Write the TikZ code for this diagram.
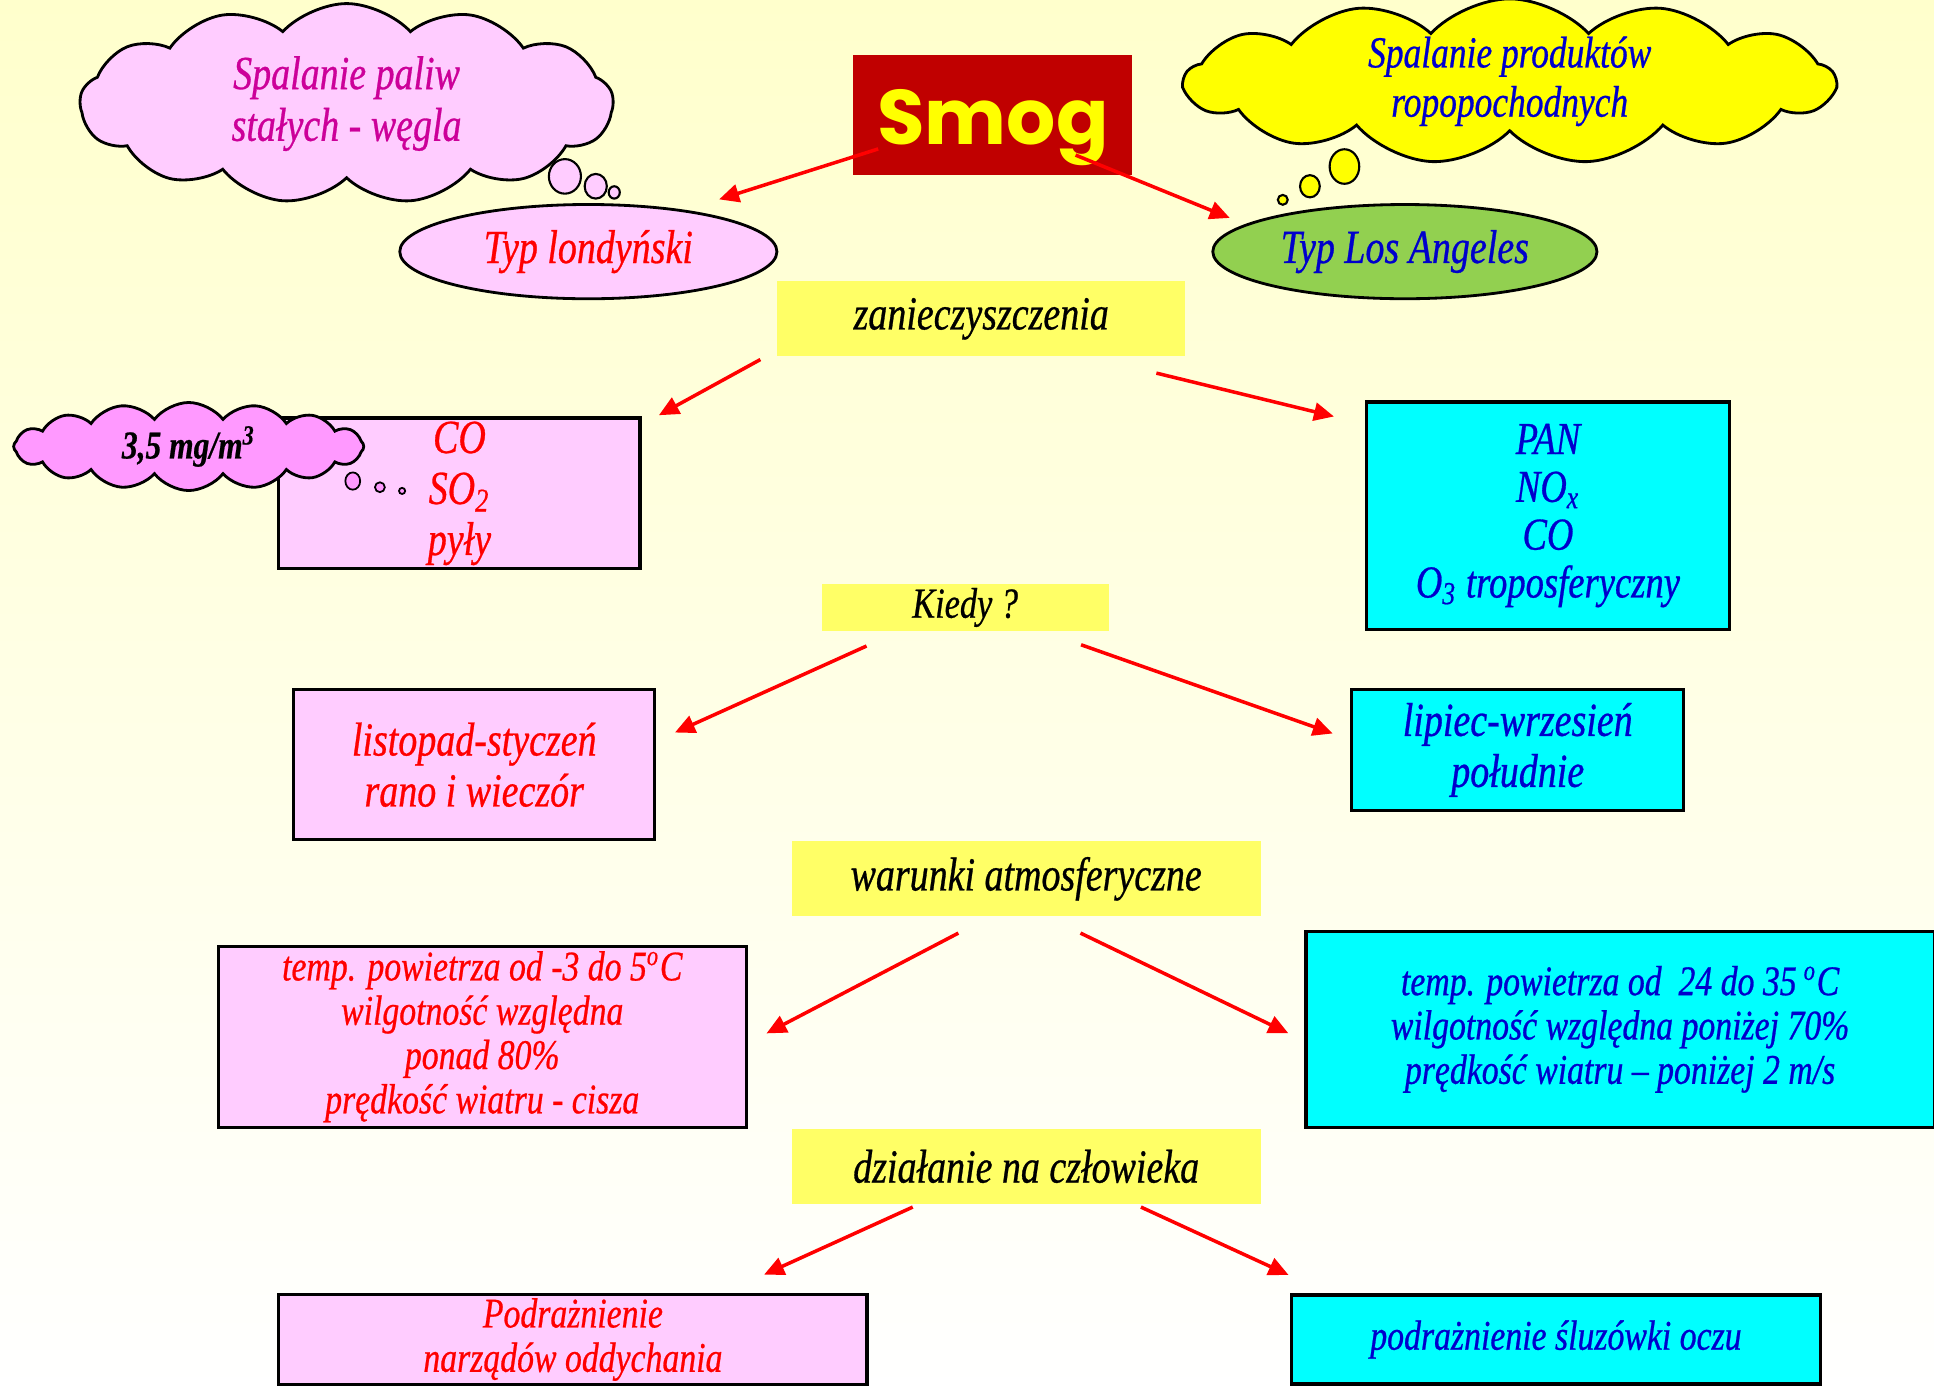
\documentclass[tikz,border=0pt]{standalone}
\usepackage{fontspec}
\setmainfont{Liberation Serif}[FakeStretch=0.8, FakeBold=0.6]
\newfontfamily\smogfont{Poppins}
\usetikzlibrary{arrows.meta,positioning,shapes.geometric,shapes.symbols}
\definecolor{cbgtop}{HTML}{FFFFCC}
\definecolor{cpink}{HTML}{FFCCFF}
\definecolor{cviolet}{HTML}{FF99FF}
\definecolor{ccyan}{HTML}{00FFFF}
\definecolor{ctopic}{HTML}{FFFF66}
\definecolor{cyel}{HTML}{FFFF00}
\definecolor{cgreen}{HTML}{92D050}
\definecolor{cdark}{HTML}{C00000}
\definecolor{cmag}{HTML}{CC0099}
\definecolor{cblue}{HTML}{0000CC}

\begin{document}
\begin{tikzpicture}[x=0.012334cm, y=-0.012334cm,
  pinkbox/.style={draw, line width=0.9pt, fill=cpink, text=red, align=center, inner sep=1pt},
  cyanbox/.style={draw, line width=0.9pt, fill=ccyan, text=cblue, align=center, inner sep=1pt},
  topic/.style={fill=ctopic, text=black, minimum height=0.75cm, inner sep=1pt,
                font=\fontsize{13.5}{14.5}\selectfont\itshape},
  thought/.style={cloud, cloud puffs=13, cloud puff arc=95, cloud ignores aspect, draw,
                  line width=0.8pt, inner sep=0pt, align=center},
  oval/.style={ellipse, draw, line width=0.8pt, minimum width=3.77cm,
               minimum height=0.89cm, font=\fontsize{13.5}{14.5}\selectfont\itshape},
  big/.style={font=\fontsize{13.5}{14.5}\selectfont\itshape},
  small/.style={font=\fontsize{12}{12.6}\selectfont\itshape},
  arr/.style={-{Triangle[length=2mm,width=1.8mm]}, red, line width=1pt}
]
  \clip (0,0) rectangle (1568,1127);
  \shade[top color=cbgtop, bottom color=white] (0,0) rectangle (1568,1127);

  % what burns
  \node[thought, fill=cpink, text=cmag, minimum width=5.33cm, minimum height=2cm,
        font=\fontsize{13.5}{14.7}\selectfont\itshape] (coal) at (281,84)
        {Spalanie paliw\\stałych - węgla};
  \draw[fill=cpink, line width=0.6pt] (458,143) ellipse [x radius=13, y radius=14];
  \draw[fill=cpink, line width=0.6pt] (483,151) ellipse [x radius=9, y radius=10];
  \draw[fill=cpink, line width=0.6pt] (498,156) ellipse [x radius=4.5, y radius=5];

  \node[thought, fill=cyel, text=cblue, minimum width=6.5cm, minimum height=1.57cm,
        font=\fontsize{12.6}{14}\selectfont\itshape] (oil) at (1224,66)
        {Spalanie produktów\\ropopochodnych};
  \draw[fill=cyel, line width=0.6pt] (1090,135) ellipse [x radius=12, y radius=14];
  \draw[fill=cyel, line width=0.6pt] (1062,151) ellipse [x radius=8, y radius=9];
  \draw[fill=cyel, line width=0.6pt] (1040,162) ellipse [x radius=4, y radius=4];

  \node[fill=cdark, text=cyel, minimum width=2.79cm, minimum height=1.2cm,
        font=\smogfont\fontsize{22}{22}\selectfont\bfseries] (smog) at (805,93.5)
        {\raisebox{0pt}[16.8pt][0pt]{Smog}};

  \node[oval, fill=cpink, text=red] (lond) at (477,204) {Typ londyński};
  \node[oval, fill=cgreen, text=cblue] (la) at (1139,204) {Typ Los Angeles};

  % pollutants
  \node[topic, minimum width=4.08cm] (zan) at (795.5,258.5) {zanieczyszczenia};
  \node[pinkbox, big, minimum width=3.61cm, minimum height=1.5cm] (pl) at (372.5,400)
        {CO\\SO\textsubscript{2}\\pyły};
  \node[thought, fill=cviolet, text=black, cloud puffs=16, cloud puff arc=105,
        minimum width=3.5cm, minimum height=0.88cm,
        font=\fontsize{11.2}{12}\selectfont\itshape\bfseries] (dose) at (153,362)
        {3,5 mg/m\textsuperscript{3}};
  \draw[fill=cviolet, line width=0.5pt] (286,390) ellipse [x radius=6, y radius=7];
  \draw[fill=cviolet, line width=0.5pt] (308,395) ellipse [x radius=4, y radius=4];
  \draw[fill=cviolet, line width=0.5pt] (326,398) ellipse [x radius=2.5, y radius=2.5];
  \node[cyanbox, minimum width=3.63cm, minimum height=2.27cm,
        font=\fontsize{13}{13.6}\selectfont\itshape] (pr) at (1255,418)
        {PAN\\NO\textsubscript{x}\\CO\\O\textsubscript{3} troposferyczny};

  % season
  \node[topic, minimum width=2.87cm, minimum height=0.46cm,
        font=\fontsize{12.2}{13}\selectfont\itshape] (kiedy) at (782.5,492.5) {Kiedy ?};
  \node[pinkbox, big, minimum width=3.61cm, minimum height=1.5cm] (wl) at (384.5,620)
        {listopad-styczeń\\rano i wieczór};
  \node[cyanbox, big, minimum width=3.32cm, minimum height=1.21cm] (wr) at (1230.5,608)
        {lipiec-wrzesień\\południe};

  % weather
  \node[topic, minimum width=4.69cm] (war) at (832,712.5) {warunki atmosferyczne};
  \node[pinkbox, small, minimum width=5.28cm, minimum height=1.81cm] (cl) at (391,840.5)
        {temp. powietrza od -3 do 5\textsuperscript{o}C\\wilgotność względna\\ponad 80\%\\prędkość wiatru - cisza};
  \node[cyanbox, small, minimum width=6.28cm, minimum height=1.96cm] (cr) at (1313.5,834.5)
        {temp. powietrza od\ \ 24 do 35\,\textsuperscript{o}C\\wilgotność względna poniżej 70\%\\prędkość wiatru -- poniżej 2 m/s};

  % effects
  \node[topic, minimum width=4.69cm, below=2.11cm of war] (dz) {działanie na człowieka};
  \node[pinkbox, small, minimum width=5.88cm, minimum height=0.89cm] (el) at (464.5,1086)
        {Podrażnienie\\narządów oddychania};
  \node[cyanbox, small, minimum width=5.29cm, minimum height=0.89cm] (er) at (1261.5,1086)
        {podrażnienie śluzówki oczu};

  \draw[arr] ([shift={(-93,-22)}]smog.south) -- ([shift={(106,-3)}]lond.north);
  \draw[arr] ([shift={(67,-17)}]smog.south) -- ([shift={(-142,12)}]la.north);
  \draw[arr] ([shift={(-13,2)}]zan.south west) -- ([shift={(14,-1)}]pl.north east);
  \draw[arr] ([shift={(-24,13)}]zan.south east) -- ([shift={(-25,13)}]pr.north west);
  \draw[arr] ([shift={(37,12)}]kiedy.south west) -- ([shift={(15,36)}]wl.north east);
  \draw[arr] ([shift={(-23,11)}]kiedy.south east) -- ([shift={(-14,37)}]wr.north west);
  \draw[arr] ([shift={(-55,13)}]war.south) -- ([shift={(15,72)}]cl.north east);
  \draw[arr] ([shift={(44,13)}]war.south) -- ([shift={(-13,84)}]cr.north west);
  \draw[arr] ([shift={(-92,2)}]dz.south) -- ([shift={(155,-15)}]el.north);
  \draw[arr] ([shift={(93,2)}]dz.south) -- ([shift={(-1,-15)}]er.north west);
\end{tikzpicture}
\end{document}
